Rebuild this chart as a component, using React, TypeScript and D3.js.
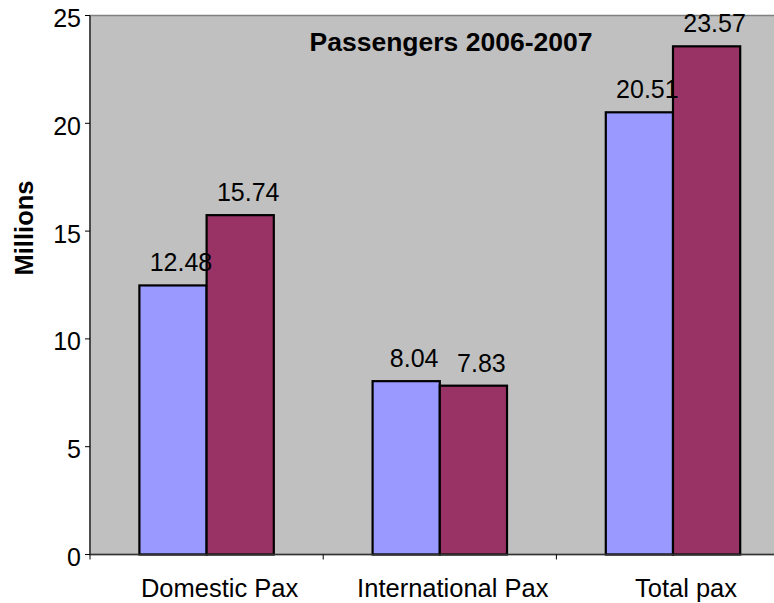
import React from "react";
import * as d3 from "d3";

// Passenger volumes (millions) by category, two years side by side
const categories = ["Domestic Pax", "International Pax", "Total pax"];
const seriesNames = ["2006", "2007"];
const values2006 = [12.48, 8.04, 20.51];
const values2007 = [15.74, 7.83, 23.57];
const yTicks = [0, 5, 10, 15, 20, 25];

const WIDTH = 774;
const HEIGHT = 603;
const PLOT_LEFT = 90;
const PLOT_RIGHT = 789.6;
const PLOT_TOP = 15.5;
const PLOT_BOTTOM = 554.5;

const FONT = "'Liberation Sans', Arial, Helvetica, sans-serif";
const COLORS = ["#9999FF", "#993366"];

export default function App() {
  const x = d3
    .scaleBand<string>()
    .domain(categories)
    .range([PLOT_LEFT, PLOT_RIGHT])
    .paddingInner(0)
    .paddingOuter(0);

  const xs = d3
    .scaleBand<string>()
    .domain(seriesNames)
    .range([0, x.bandwidth()])
    .paddingInner(0)
    .paddingOuter(0.735);

  const y = d3.scaleLinear().domain([0, 25]).range([PLOT_BOTTOM, PLOT_TOP]);

  const seriesValues = [values2006, values2007];
  const step = x.step();
  const catBoundaries = d3.range(categories.length + 1).map((i) => PLOT_LEFT + i * step);

  return (
    <svg
      width={WIDTH}
      height={HEIGHT}
      style={{ position: "absolute", left: 0, top: 0, background: "#ffffff" }}
      fontFamily={FONT}
    >
      <rect x={0} y={0} width={WIDTH} height={HEIGHT} fill="#ffffff" />
      {/* plot area */}
      <rect
        x={PLOT_LEFT}
        y={PLOT_TOP}
        width={PLOT_RIGHT - PLOT_LEFT}
        height={PLOT_BOTTOM - PLOT_TOP}
        fill="#C0C0C0"
        stroke="#808080"
        strokeWidth={1.5}
      />

      {/* bars */}
      {categories.map((c, ci) =>
        seriesNames.map((s, si) => {
          const v = seriesValues[si][ci];
          const bx = (x(c) as number) + (xs(s) as number);
          const by = y(v);
          return (
            <rect
              key={`${c}-${s}`}
              x={bx}
              y={by}
              width={xs.bandwidth()}
              height={y(0) - by}
              fill={COLORS[si]}
              stroke="#000000"
              strokeWidth={2.2}
            />
          );
        })
      )}

      {/* value labels */}
      {categories.map((c, ci) =>
        seriesNames.map((s, si) => {
          const v = seriesValues[si][ci];
          const cx = (x(c) as number) + (xs(s) as number) + xs.bandwidth() / 2 + 8;
          return (
            <text
              key={`lbl-${c}-${s}`}
              x={cx}
              y={y(v) - 14}
              textAnchor="middle"
              fontSize={25}
              fill="#000000"
            >
              {v.toFixed(2)}
            </text>
          );
        })
      )}

      {/* y axis */}
      <line x1={PLOT_LEFT} x2={PLOT_LEFT} y1={PLOT_TOP} y2={PLOT_BOTTOM} stroke="#333333" strokeWidth={1.5} />
      {yTicks.map((t) => (
        <g key={`yt-${t}`}>
          <line x1={PLOT_LEFT - 5} x2={PLOT_LEFT} y1={y(t)} y2={y(t)} stroke="#000000" strokeWidth={1} />
          <text x={81} y={y(t) + 11.5} textAnchor="end" fontSize={25} fill="#000000">
            {t}
          </text>
        </g>
      ))}

      {/* x axis */}
      <line x1={PLOT_LEFT} x2={PLOT_RIGHT} y1={PLOT_BOTTOM} y2={PLOT_BOTTOM} stroke="#333333" strokeWidth={1.5} />
      {catBoundaries.map((bx, i) => (
        <line key={`xt-${i}`} x1={bx} x2={bx} y1={PLOT_BOTTOM} y2={PLOT_BOTTOM + 5} stroke="#000000" strokeWidth={1} />
      ))}
      {categories.map((c) => (
        <text
          key={`xl-${c}`}
          x={(x(c) as number) + x.bandwidth() / 2 + 13}
          y={597}
          textAnchor="middle"
          fontSize={25.5}
          fill="#000000"
        >
          {c}
        </text>
      ))}

      {/* title */}
      <text x={451} y={51} textAnchor="middle" fontSize={26.5} fontWeight="bold" fill="#000000">
        Passengers 2006-2007
      </text>

      {/* y axis title */}
      <text
        transform={`translate(33, 228) rotate(-90)`}
        textAnchor="middle"
        fontSize={25.5}
        fontWeight="bold"
        fill="#000000"
      >
        Millions
      </text>
    </svg>
  );
}
